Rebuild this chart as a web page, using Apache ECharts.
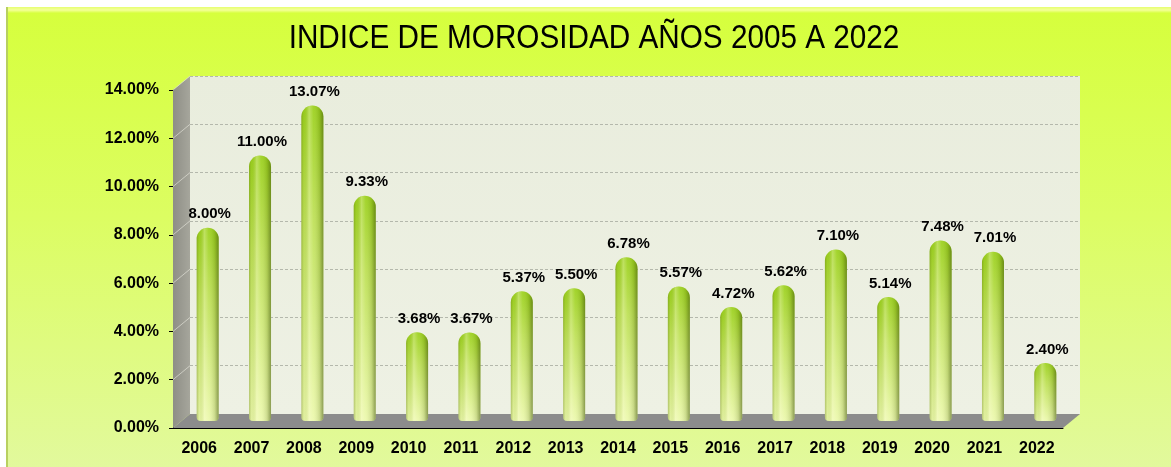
<!DOCTYPE html>
<html>
<head>
<meta charset="utf-8">
<script src="https://cdn.jsdelivr.net/npm/echarts@6/dist/echarts.min.js"></script>
<style>
  html, body { margin: 0; padding: 0; background: #fff; }
  #main { width: 1171px; height: 467px; }
</style>
</head>
<body>
<div id="main"></div>
<script>
var years = ['2006','2007','2008','2009','2010','2011','2012','2013','2014','2015','2016','2017','2018','2019','2020','2021','2022'];
var rates = [8.00, 11.00, 13.07, 9.33, 3.68, 3.67, 5.37, 5.50, 6.78, 5.57, 4.72, 5.62, 7.10, 5.14, 7.48, 7.01, 2.40];
var yMax = 14;
var yStep = 2;
var titleText = 'INDICE DE MOROSIDAD AÑOS 2005 A 2022';

// front face of the box and depth offset of the back wall
var box = {left: 173, top: 90, width: 890, height: 338};
var depth = {dx: 17, dy: -14};

var chart = echarts.init(document.getElementById('main'), null, {renderer: 'canvas'});

function pct(v) { return v.toFixed(2) + '%'; }

var sans = 'Liberation Sans, Arial, sans-serif';
var axisFont = {fontFamily: sans, fontWeight: 'bold', fontSize: 16, color: '#000'};
var labelFont = {fontFamily: sans, fontWeight: 'bold', fontSize: 15, color: '#000'};

var option = {
  animation: false,
  grid: [
    // front (axes)
    {left: box.left, top: box.top, width: box.width, height: box.height},
    // back wall
    {left: box.left + depth.dx, top: box.top + depth.dy, width: box.width, height: box.height,
     show: true, borderWidth: 0,
     backgroundColor: new echarts.graphic.LinearGradient(0, 0, 0, 1, [
       {offset: 0, color: '#e9eddd'}, {offset: 1, color: '#eef1e4'}])},
    // middle depth (bars)
    {left: box.left + depth.dx / 2, top: box.top + depth.dy / 2, width: box.width, height: box.height}
  ],
  xAxis: [
    {gridIndex: 0, type: 'category', data: years,
     axisLine: {lineStyle: {color: '#000', width: 1}},
     axisTick: {length: 5, lineStyle: {color: '#000'}},
     axisLabel: Object.assign({margin: 13, interval: 0}, axisFont)},
    {gridIndex: 1, type: 'category', data: years, show: false},
    {gridIndex: 2, type: 'category', data: years, show: false}
  ],
  yAxis: [
    {gridIndex: 0, type: 'value', min: 0, max: yMax, interval: yStep,
     axisLine: {show: true, lineStyle: {color: '#000', width: 1}},
     axisTick: {show: true, length: 4, lineStyle: {color: '#000'}},
     splitLine: {show: false},
     axisLabel: Object.assign({margin: 14, formatter: pct}, axisFont)},
    {gridIndex: 1, type: 'value', min: 0, max: yMax, interval: yStep,
     axisLine: {show: false}, axisTick: {show: false}, axisLabel: {show: false},
     splitLine: {show: true, lineStyle: {color: '#b4b8ac', type: [3, 2], width: 1}}},
    {gridIndex: 2, type: 'value', min: 0, max: yMax, interval: yStep, show: false}
  ],
  series: [
    {
      type: 'bar', xAxisIndex: 2, yAxisIndex: 2, z: 3,
      barWidth: 22,
      data: rates,
      itemStyle: {
        borderRadius: [11, 11, 4, 4],
        color: new echarts.graphic.LinearGradient(0, 0, 0, 1, [
          {offset: 0, color: '#9ad01c'},
          {offset: 0.35, color: '#bde056'},
          {offset: 1, color: '#ebf8ae'}])
      },
      label: Object.assign({show: true, position: 'top', distance: 6, offset: [2, 0], formatter: function (p) { return pct(p.value); }}, labelFont)
    },
    {
      type: 'bar', xAxisIndex: 2, yAxisIndex: 2, z: 4,
      barWidth: 22, barGap: '-100%', silent: true,
      data: rates,
      itemStyle: {
        borderRadius: [11, 11, 4, 4],
        color: new echarts.graphic.LinearGradient(0, 0, 1, 0, [
          {offset: 0, color: 'rgba(80,100,10,0.35)'},
          {offset: 0.12, color: 'rgba(120,150,20,0.08)'},
          {offset: 0.35, color: 'rgba(255,255,220,0.35)'},
          {offset: 0.55, color: 'rgba(255,255,220,0.08)'},
          {offset: 0.82, color: 'rgba(70,90,10,0.18)'},
          {offset: 1, color: 'rgba(60,80,10,0.55)'}])
      }
    }
  ]
};
chart.setOption(option);

// walls and floor of the 3D box, placed from the axis scales
var x0 = box.left, x1 = box.left + box.width;
var yBottom = chart.convertToPixel({gridIndex: 0}, [0, 0])[1];
var yTop = chart.convertToPixel({gridIndex: 0}, [0, yMax])[1];
var graphics = [
  {type: 'rect', z: -10, silent: true, shape: {x: 6, y: 7, width: 1171, height: 467},
   style: {fill: new echarts.graphic.LinearGradient(0, 0, 0, 1, [
     {offset: 0, color: '#d6ff3c'}, {offset: 0.45, color: '#dcfd62'}, {offset: 1, color: '#e2f99e'}])}},
  {type: 'rect', z: -9, silent: true, shape: {x: 6, y: 7, width: 1171, height: 6},
   style: {fill: new echarts.graphic.LinearGradient(0, 0, 0, 1, [
     {offset: 0, color: '#e6ff70'}, {offset: 0.5, color: '#f4ff9a'}, {offset: 1, color: '#d8ff40'}])}},
  {type: 'rect', z: -9, silent: true, shape: {x: 6, y: 7, width: 2, height: 467}, style: {fill: '#b8d060'}},
  // title, condensed like the original narrow face
  {type: 'text', z: 5, silent: true, x: 594, y: 39, scaleX: 0.9,
   style: {text: titleText, fontFamily: sans, fontSize: 33, fill: '#000', align: 'center', verticalAlign: 'middle'}},
  {type: 'polygon', z: 1, silent: true,
   shape: {points: [[x0, yTop], [x0 + depth.dx, yTop + depth.dy], [x0 + depth.dx, yBottom + depth.dy], [x0, yBottom]]},
   style: {fill: new echarts.graphic.LinearGradient(0, 0, 1, 0, [
     {offset: 0, color: '#8e8e86'}, {offset: 1, color: '#a6a69c'}])}},
  {type: 'polygon', z: 1, silent: true,
   shape: {points: [[x0, yBottom], [x0 + depth.dx, yBottom + depth.dy], [x1 + depth.dx, yBottom + depth.dy], [x1, yBottom]]},
   style: {fill: '#8c8c8c'}}
];
for (var v = yStep; v <= yMax; v += yStep) {
  var y = chart.convertToPixel({gridIndex: 0}, [0, v])[1];
  graphics.push({type: 'line', z: 1, silent: true,
    shape: {x1: x0, y1: y, x2: x0 + depth.dx, y2: y + depth.dy},
    style: {stroke: 'rgba(235,235,225,0.6)', lineWidth: 1}});
}
chart.setOption({graphic: graphics});
</script>
</body>
</html>
